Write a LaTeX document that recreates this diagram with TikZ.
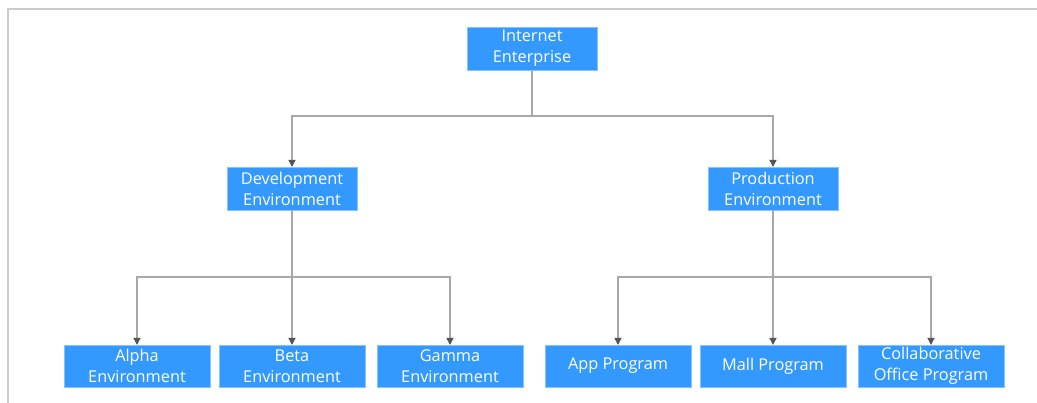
\documentclass[tikz,border=0pt]{standalone}
\usepackage{fontspec}
\setmainfont{Open Sans}
\usepackage{tikz}
\usetikzlibrary{arrows.meta}

\definecolor{boxblue}{HTML}{3399FF}
\definecolor{linegray}{HTML}{A8A8A8}
\definecolor{tipgray}{HTML}{555555}
\definecolor{framegray}{HTML}{CCCCCC}

\begin{document}
\begin{tikzpicture}[x=1pt, y=-1pt, outer sep = 0pt]

\tikzstyle{unit}=[fill=boxblue, draw=boxblue!60!white, line width=0.6pt, text=white, align=center, font=\fontsize{16.3}{21}\selectfont, inner sep=0pt, minimum height=43, minimum width=130]
\tikzstyle{leaf}=[unit, minimum height=42, minimum width=146]
\tikzstyle{link}=[draw=linegray, line width=1.3pt]
\tikzstyle{feed}=[link, -{Triangle[length=7pt,width=7pt,color=tipgray]}]

\useasboundingbox (0,0) rectangle (1037,403);
% frame
\draw[framegray, line width=2pt] (1037,9.5) -- (7.5,9.5) -- (7.5,403);

\node[unit] (root) at (532,48.5) {Internet\\Enterprise};
\node[unit] (dev) at (292,188.5) {Development\\Environment};
\node[unit] (prod) at (773,188.5) {Production\\Environment};

\node[leaf] (alpha) at (137,366) {Alpha\\Environment}; \node[leaf] (beta) at (292,366) {Beta\\Environment}; \node[leaf] (gamma) at (450,366) {Gamma\\Environment};
\node[leaf] (app) at (618,366) {App Program}; \node[leaf] (mall) at (773,366) {Mall Program}; \node[leaf] (office) at (931,366) {Collaborative\\Office Program};

\coordinate (top bus) at (532,116);
\coordinate (dev bus) at (292,277);
\coordinate (prod bus) at (773,277);

\draw[link] (root) -- (top bus);
\draw[feed] (top bus) -| (dev);
\draw[feed] (top bus) -| (prod);

\draw[feed] (dev) -- (beta);
\draw[feed] (dev bus) -| (alpha);
\draw[feed] (dev bus) -| (gamma);

\draw[feed] (prod) -- (mall);
\draw[feed] (prod bus) -| (app);
\draw[feed] (prod bus) -| (office);

\end{tikzpicture}
\end{document}
